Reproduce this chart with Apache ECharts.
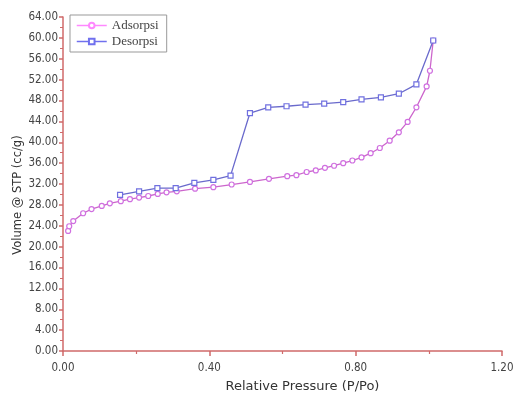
<!DOCTYPE html>
<html>
<head>
<meta charset="utf-8">
<script src="https://cdn.jsdelivr.net/npm/echarts@6/dist/echarts.min.js"></script>
<style>
  html, body { margin: 0; padding: 0; background: #fff; }
  #chart { width: 516px; height: 393px; }
</style>
</head>
<body>
<div id="chart"></div>
<script>
// relative pressure / volume
const adsP = [0.014, 0.017, 0.028, 0.055, 0.078, 0.106, 0.128, 0.158, 0.183, 0.208, 0.233, 0.259, 0.283, 0.311,
  0.361, 0.411, 0.461, 0.511, 0.563, 0.613, 0.638, 0.666, 0.691, 0.716, 0.741, 0.766, 0.791, 0.816, 0.841,
  0.866, 0.893, 0.918, 0.942, 0.966, 0.994, 1.003, 1.012];
const adsV = [23.0, 23.9, 24.9, 26.4, 27.2, 27.8, 28.3, 28.7, 29.1, 29.4, 29.7, 30.1, 30.4, 30.6,
  31.1, 31.4, 31.9, 32.4, 33.0, 33.5, 33.7, 34.3, 34.6, 35.1, 35.5, 36.0, 36.5, 37.1, 37.9,
  38.9, 40.3, 41.9, 43.9, 46.7, 50.7, 53.7, 59.5];
const desP = [0.156, 0.208, 0.258, 0.308, 0.359, 0.411, 0.458, 0.511, 0.561, 0.611, 0.663, 0.714, 0.766,
  0.816, 0.869, 0.918, 0.966, 1.012];
const desV = [29.9, 30.6, 31.2, 31.2, 32.2, 32.8, 33.6, 45.6, 46.7, 46.9, 47.2, 47.4, 47.7,
  48.2, 48.6, 49.3, 51.1, 59.5];
const seriesNames = ["Adsorpsi", "Desorpsi"];

const axisRed = "#d06a6a";
const chart = echarts.init(document.getElementById("chart"));

const pairs = (xs, ys) => xs.map((x, i) => [x, ys[i]]);

chart.setOption({
  animation: false,
  grid: { left: 63, right: 14, top: 17, bottom: 42, outerBoundsMode: "none" },
  legend: {
    left: 70, top: 15,
    orient: "vertical",
    itemGap: 3,
    itemWidth: 30, itemHeight: 7,
    padding: [4, 8, 4, 6],
    borderColor: "#999", borderWidth: 1,
    textStyle: { fontFamily: "Liberation Serif", fontSize: 13, color: "#444" },
    data: [
      { name: seriesNames[0], itemStyle: { color: "#fff", borderColor: "#ff88ff" }, lineStyle: { color: "#ff88ff", width: 1.5 } },
      { name: seriesNames[1], itemStyle: { color: "#fff", borderColor: "#7070ee" }, lineStyle: { color: "#7070ee", width: 1.5 } }
    ]
  },
  xAxis: {
    type: "value", min: 0, max: 1.2, interval: 0.4,
    name: "Relative Pressure (P/Po)", nameLocation: "middle", nameGap: 29, nameMoveOverlap: false,
    nameTextStyle: { fontFamily: "DejaVu Sans", fontSize: 13, color: "#333", padding: [0, 0, 0, 40] },
    axisLine: { lineStyle: { color: axisRed, width: 1.5 } },
    axisTick: { show: true, length: 5, lineStyle: { color: axisRed, width: 1.5 } },
    minorTick: { show: true, splitNumber: 2, length: 3, lineStyle: { color: axisRed, width: 1.2 } },
    axisLabel: { formatter: v => v.toFixed(2), fontFamily: "DejaVu Sans Condensed", fontSize: 11.5, color: "#444", margin: 11 },
    splitLine: { show: false }
  },
  yAxis: {
    type: "value", min: 0, max: 64, interval: 4,
    name: "Volume @ STP (cc/g)", nameLocation: "middle", nameGap: 39, nameMoveOverlap: false,
    nameTextStyle: { fontFamily: "DejaVu Sans", fontSize: 11.5, color: "#333", padding: [0, 22, 0, 0] },
    axisLine: { show: true, lineStyle: { color: axisRed, width: 1.5 } },
    axisTick: { show: true, length: 4, lineStyle: { color: axisRed, width: 1.5 } },
    minorTick: { show: true, splitNumber: 2, length: 3, lineStyle: { color: axisRed } },
    axisLabel: { formatter: v => v.toFixed(2), fontFamily: "DejaVu Sans Condensed", fontSize: 11.5, color: "#444", margin: 5 },
    splitLine: { show: false }
  },
  series: [
    {
      name: seriesNames[0], type: "line", data: pairs(adsP, adsV),
      symbol: "circle", symbolSize: 5,
      lineStyle: { color: "#cc66cc", width: 1.3 },
      itemStyle: { color: "#fff", borderColor: "#d070e0", borderWidth: 1.2 },
      z: 2
    },
    {
      name: seriesNames[1], type: "line", data: pairs(desP, desV),
      symbol: "rect", symbolSize: 5,
      lineStyle: { color: "#6a6acc", width: 1.3 },
      itemStyle: { color: "#fff", borderColor: "#7070e0", borderWidth: 1.2 },
      z: 3
    }
  ]
});
</script>
</body>
</html>
